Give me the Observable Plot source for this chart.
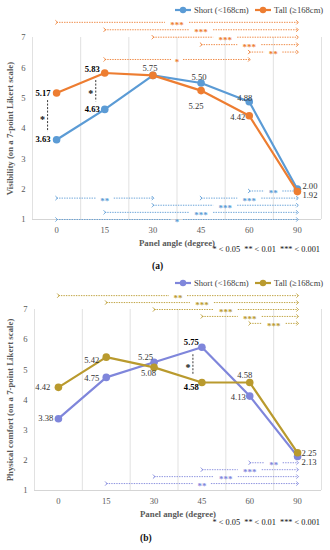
<!DOCTYPE html>
<html>
<head>
<meta charset="utf-8">
<script src="https://cdn.jsdelivr.net/npm/d3@7"></script>
<script src="https://cdn.jsdelivr.net/npm/@observablehq/plot@0.6"></script>
<style>
  body { margin: 0; background: #fff; font-family: "Liberation Serif", "Times New Roman", serif; }
  #root { position: relative; width: 330px; height: 550px; overflow: hidden; background: #fff; }
  .abs { position: absolute; }
  .legend { font-size: 8.6px; line-height: 10px; color: #404040; white-space: nowrap; }
  .legend .item { position: absolute; top: 0; display: flex; align-items: center; }
  .legend svg { margin-right: 3px; }
  .note { font-size: 8.3px; line-height: 10px; color: #111; white-space: pre; text-align: right; }
  .cap { font-size: 9.5px; line-height: 11px; font-weight: bold; color: #111; }
</style>
</head>
<body>
<div id="root"></div>
<script>
// ---------------- data ----------------
const angles = ["0", "15", "30", "45", "60", "90"];
const groups = ["Short (<168cm)", "Tall (\u2265168cm)"];
const yTicks = [1, 2, 3, 4, 5, 6, 7];

const visShort = [3.63, 4.63, 5.75, 5.50, 4.88, 2.00];
const visTall  = [5.17, 5.83, 5.75, 5.25, 4.42, 1.92];
const comfShort = [3.38, 4.75, 5.25, 5.75, 4.13, 2.13];
const comfTall  = [4.42, 5.42, 5.08, 4.58, 4.58, 2.25];

// pairwise significance between angles (row = stacking level)
const visShortSig = [
  {from: 0, to: 5, p: "*", row: 0},
  {from: 1, to: 5, p: "***", row: 1},
  {from: 2, to: 5, p: "***", row: 2},
  {from: 0, to: 2, p: "**", row: 3},
  {from: 3, to: 5, p: "***", row: 3},
  {from: 4, to: 5, p: "**", row: 4}
];
const visTallSig = [
  {from: 0, to: 5, p: "***", row: 0},
  {from: 1, to: 5, p: "***", row: 1},
  {from: 2, to: 5, p: "***", row: 2},
  {from: 3, to: 5, p: "***", row: 3},
  {from: 4, to: 5, p: "**", row: 4},
  {from: 1, to: 4, p: "*", row: 5}
];
const comfShortSig = [
  {from: 1, to: 5, p: "**", row: 1},
  {from: 2, to: 5, p: "***", row: 2},
  {from: 3, to: 5, p: "***", row: 3},
  {from: 4, to: 5, p: "**", row: 4}
];
const comfTallSig = [
  {from: 0, to: 5, p: "**", row: 0},
  {from: 1, to: 5, p: "***", row: 1},
  {from: 2, to: 5, p: "***", row: 2},
  {from: 3, to: 5, p: "***", row: 3},
  {from: 4, to: 5, p: "***", row: 4}
];
// significance between Short and Tall at the same angle
const visPairSig = [{at: 0, p: "*"}, {at: 1, p: "*"}];
const comfPairSig = [{at: 3, p: "*"}];

const pNote = "* < 0.05  ** < 0.01  *** < 0.001";

// ---------------- layout / style ----------------
const W = 330;
const FONT = '"Liberation Serif", "Times New Roman", serif';

// label offsets [dx, dy, anchor] per point (null = hidden)
const visLabelPlace = {
  short: [[-6, 0, "end"], [-5, 0, "end"], [-3, -7, "middle"], [-2, -6, "middle"], [3, -4, "end"], [5, -3, "start"]],
  tall:  [[-6, 0, "end"], [-5, -4, "end"], null, [-5, 16, "middle"], [-4, 1, "end"], [5, 4, "start"]]
};
const comfLabelPlace = {
  short: [[-5, 0, "end"], [-7, 1, "end"], [-1, -5, "end"], [-3, -5, "end"], [-4, 1, "end"], [4, 6, "start"]],
  tall:  [[-8, 0, "end"], [-7, 3, "end"], [2, 6, "end"], [-3, 5, "end"], [-5, -7, "middle"], [4, 0, "start"]]
};

const root = document.getElementById("root");

function legend(top, colors) {
  const div = document.createElement("div");
  div.className = "abs legend";
  div.style.top = top + "px";
  div.style.left = "0px";
  div.style.width = W + "px";
  div.style.height = "10px";
  const lefts = [175, 255];
  groups.forEach((g, k) => {
    const it = document.createElement("div");
    it.className = "item";
    it.style.left = lefts[k] + "px";
    it.innerHTML = `<svg width="16" height="10"><line x1="0" y1="5" x2="16" y2="5" stroke="${colors[k]}" stroke-width="2.2"/><circle cx="8" cy="5" r="3.2" fill="${colors[k]}"/></svg>`;
    const t = document.createElement("span");
    t.textContent = g;
    it.appendChild(t);
    div.appendChild(it);
  });
  root.appendChild(div);
}

function panel(o) {
  const n = angles.length;
  const pxPerUnit = (W - o.ml - o.mr) / n;
  const marks = [
    Plot.ruleX(d3.range(n + 1).map(i => i - 0.5), {y1: 1, y2: 7, stroke: "#d9d9d9", strokeWidth: 0.8}),
    Plot.ruleY([1], {x1: -0.5, x2: n - 0.5, stroke: "#d0d0d0", strokeWidth: 0.9}),
    Plot.axisY({ticks: yTicks, tickFormat: d => String(d), tickSize: 0, tickPadding: 7, label: null, fill: "#595959"}),
    Plot.axisX({ticks: d3.range(n), tickFormat: i => angles[i], tickSize: 0, tickPadding: 7, label: null, fill: "#595959"}),
    Plot.text([o.xTitle], {frameAnchor: "bottom", lineAnchor: "middle", textAnchor: "middle", dy: 24, text: d => d, fontWeight: "bold", fill: "#595959", fontSize: 8.8}),
    Plot.text([o.yTitle], {frameAnchor: "left", textAnchor: "middle", lineAnchor: "middle", dx: -(o.ml - 10), text: d => d, rotate: -90, fontWeight: "bold", fill: "#595959", fontSize: 8.8})
  ];

  // significance brackets across angles
  o.sigs.forEach((list, s) => {
    const segL = [], segR = [], stars = [];
    list.forEach(d => {
      const y = s === 0 ? 1 + d.row * o.shortStep : o.tallBase - d.row * o.tallStep;
      const mid = (d.from + d.to) / 2;
      const g = (d.p.length * 3 + 3) / pxPerUnit;
      segL.push({x1: d.from, x2: mid - g, y});
      segR.push({x1: mid + g, x2: d.to, y});
      stars.push({x: mid, y, p: d.p});
    });
    const common = {x1: "x1", x2: "x2", y1: "y", y2: "y", stroke: o.colors[s], strokeWidth: 0.9, strokeDasharray: "1.4,1.1"};
    marks.push(Plot.link(segL, {...common, markerStart: "arrow"}));
    marks.push(Plot.link(segR, {...common, markerEnd: "arrow"}));
    marks.push(Plot.text(stars, {x: "x", y: "y", text: "p", fill: o.colors[s], fontWeight: "bold", fontSize: 9, dy: 2.5}));
  });

  // Short vs Tall significance at same angle
  const pairs = o.pair.map(d => {
    const a = o.series[0][d.at], b = o.series[1][d.at];
    const hi = Math.max(a, b), lo = Math.min(a, b);
    return {x: d.at, y1: hi - 0.25, y2: lo + 0.25, ym: (hi + lo) / 2, p: d.p};
  });
  marks.push(Plot.ruleX(pairs, {x: "x", y1: "y1", y2: "y2", dx: -9, stroke: "#222", strokeWidth: 0.9, strokeDasharray: "2,1.5"}));
  marks.push(Plot.text(pairs, {x: "x", y: "ym", text: "p", dx: -14, dy: 3, fontWeight: "bold", fontSize: 10, fill: "#111"}));

  // lines & dots
  o.series.forEach((vals, s) => {
    const pts = vals.map((v, i) => ({i, v}));
    marks.push(Plot.line(pts, {x: "i", y: "v", stroke: o.colors[s], strokeWidth: 2.2}));
    marks.push(Plot.dot(pts, {x: "i", y: "v", fill: o.colors[s], r: 3.8}));
  });

  // value labels
  const boldIdx = new Set(o.pair.map(d => d.at));
  o.series.forEach((vals, s) => {
    const place = s === 0 ? o.place.short : o.place.tall;
    vals.forEach((v, i) => {
      const pl = place[i];
      if (!pl) return;
      const bold = boldIdx.has(i);
      marks.push(Plot.text([{i, v}], {
        x: "i", y: "v", text: d => d.v.toFixed(2),
        dx: pl[0], dy: pl[1], textAnchor: pl[2],
        fontWeight: bold ? "bold" : "normal",
        fill: bold ? "#000" : "#333", fontSize: 8.6
      }));
    });
  });

  const chart = Plot.plot({
    width: W, height: o.height,
    marginLeft: o.ml, marginRight: o.mr, marginTop: o.mt, marginBottom: o.mb,
    x: {domain: [-0.5, n - 0.5]},
    y: {domain: [1, 7]},
    style: {fontFamily: FONT, fontSize: "8.6px", color: "#595959", background: "transparent", overflow: "visible"},
    marks
  });
  chart.classList.add("abs");
  chart.style.top = o.top + "px";
  chart.style.left = "0px";
  root.appendChild(chart);
}

function note(top) {
  const d = document.createElement("div");
  d.className = "abs note";
  d.style.top = top + "px";
  d.style.right = "10px";
  d.textContent = pNote;
  root.appendChild(d);
}
function cap(top, left, txt) {
  const d = document.createElement("div");
  d.className = "abs cap";
  d.style.top = top + "px";
  d.style.left = left + "px";
  d.textContent = txt;
  root.appendChild(d);
}

const colorsA = ["#5B9BD5", "#ED7D31"];
const colorsB = ["#7F86DB", "#B99A2E"];

// Panel (a)
legend(5, colorsA);
panel({
  top: 17, height: 232, ml: 32, mr: 9, mt: 20, mb: 30,
  series: [visShort, visTall], sigs: [visShortSig, visTallSig], pair: visPairSig,
  colors: colorsA, place: visLabelPlace,
  shortStep: 0.235, tallBase: 7.5, tallStep: 0.245,
  xTitle: "Panel angle (degree)", yTitle: "Visibility (on a 7-point Likert scale)"
});
note(245);
cap(261, 152, "(a)");

// Panel (b)
legend(278, colorsB);
panel({
  top: 290, height: 230, ml: 34, mr: 9, mt: 19, mb: 30,
  series: [comfShort, comfTall], sigs: [comfShortSig, comfTallSig], pair: comfPairSig,
  colors: colorsB, place: comfLabelPlace,
  shortStep: 0.23, tallBase: 7.46, tallStep: 0.23,
  xTitle: "Panel angle (degree)", yTitle: "Physical comfort (on a 7-point Likert scale)"
});
note(518);
cap(533, 140, "(b)");
</script>
</body>
</html>
